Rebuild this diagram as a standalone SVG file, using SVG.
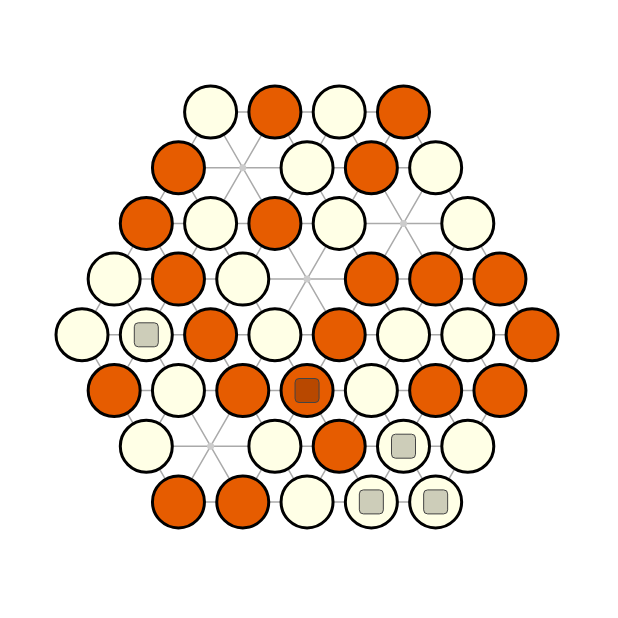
<svg xmlns="http://www.w3.org/2000/svg" width="618" height="618" viewBox="0 0 618 618">
<style>
.c{fill:#ffffe6;stroke:#000;stroke-width:3}
.o{fill:#e65c00;stroke:#000;stroke-width:3}
.e{fill:#cccccc;stroke:none}
.sq{fill:#cdcdb9;stroke:#444;stroke-width:1}
.sqo{fill:#b84800;stroke:#444;stroke-width:1}
#connectors path{fill:none;stroke:#aaaaaa;stroke-width:1.5}
</style>
<rect width="618" height="618" fill="#fff"/>
<g id="connectors">
<path d="M210.6 112H403.5M178.45 167.7H435.65M146.3 223.4H467.8M114.15 279.1H499.95M82 334.8H532.1M114.15 390.5H499.95M146.3 446.2H467.8M178.45 501.9H435.65"/>
<path d="M210.6 112L82 334.8M274.9 112L114.15 390.5M339.2 112L146.3 446.2M403.5 112L178.45 501.9M435.65 167.7L242.75 501.9M467.8 223.4L307.05 501.9M499.95 279.1L371.35 501.9M532.1 334.8L435.65 501.9"/>
<path d="M82 334.8L178.45 501.9M114.15 279.1L242.75 501.9M146.3 223.4L307.05 501.9M178.45 167.7L371.35 501.9M210.6 112L435.65 501.9M274.9 112L467.8 446.2M339.2 112L499.95 390.5M403.5 112L532.1 334.8"/>
</g>
<g id="r0">
<g id="n0-4"><circle class="c" cx="210.6" cy="112" r="26"/></g>
<g id="n0-6"><circle class="o" cx="274.9" cy="112" r="26"/></g>
<g id="n0-8"><circle class="c" cx="339.2" cy="112" r="26"/></g>
<g id="n0-10"><circle class="o" cx="403.5" cy="112" r="26"/></g>
</g>
<g id="r1">
<g id="n1-3"><circle class="o" cx="178.45" cy="167.7" r="26"/></g>
<g id="n1-5"><circle class="e" cx="242.75" cy="167.7" r="3.5"/></g>
<g id="n1-7"><circle class="c" cx="307.05" cy="167.7" r="26"/></g>
<g id="n1-9"><circle class="o" cx="371.35" cy="167.7" r="26"/></g>
<g id="n1-11"><circle class="c" cx="435.65" cy="167.7" r="26"/></g>
</g>
<g id="r2">
<g id="n2-2"><circle class="o" cx="146.3" cy="223.4" r="26"/></g>
<g id="n2-4"><circle class="c" cx="210.6" cy="223.4" r="26"/></g>
<g id="n2-6"><circle class="o" cx="274.9" cy="223.4" r="26"/></g>
<g id="n2-8"><circle class="c" cx="339.2" cy="223.4" r="26"/></g>
<g id="n2-10"><circle class="e" cx="403.5" cy="223.4" r="3.5"/></g>
<g id="n2-12"><circle class="c" cx="467.8" cy="223.4" r="26"/></g>
</g>
<g id="r3">
<g id="n3-1"><circle class="c" cx="114.15" cy="279.1" r="26"/></g>
<g id="n3-3"><circle class="o" cx="178.45" cy="279.1" r="26"/></g>
<g id="n3-5"><circle class="c" cx="242.75" cy="279.1" r="26"/></g>
<g id="n3-7"><circle class="e" cx="307.05" cy="279.1" r="3.5"/></g>
<g id="n3-9"><circle class="o" cx="371.35" cy="279.1" r="26"/></g>
<g id="n3-11"><circle class="o" cx="435.65" cy="279.1" r="26"/></g>
<g id="n3-13"><circle class="o" cx="499.95" cy="279.1" r="26"/></g>
</g>
<g id="r4">
<g id="n4-0"><circle class="c" cx="82" cy="334.8" r="26"/></g>
<g id="n4-2"><circle class="c" cx="146.3" cy="334.8" r="26"/><rect class="sq" x="134.3" y="322.8" width="24" height="24" rx="4"/></g>
<g id="n4-4"><circle class="o" cx="210.6" cy="334.8" r="26"/></g>
<g id="n4-6"><circle class="c" cx="274.9" cy="334.8" r="26"/></g>
<g id="n4-8"><circle class="o" cx="339.2" cy="334.8" r="26"/></g>
<g id="n4-10"><circle class="c" cx="403.5" cy="334.8" r="26"/></g>
<g id="n4-12"><circle class="c" cx="467.8" cy="334.8" r="26"/></g>
<g id="n4-14"><circle class="o" cx="532.1" cy="334.8" r="26"/></g>
</g>
<g id="r5">
<g id="n5-1"><circle class="o" cx="114.15" cy="390.5" r="26"/></g>
<g id="n5-3"><circle class="c" cx="178.45" cy="390.5" r="26"/></g>
<g id="n5-5"><circle class="o" cx="242.75" cy="390.5" r="26"/></g>
<g id="n5-7"><circle class="o" cx="307.05" cy="390.5" r="26"/><rect class="sqo" x="295.05" y="378.5" width="24" height="24" rx="4"/></g>
<g id="n5-9"><circle class="c" cx="371.35" cy="390.5" r="26"/></g>
<g id="n5-11"><circle class="o" cx="435.65" cy="390.5" r="26"/></g>
<g id="n5-13"><circle class="o" cx="499.95" cy="390.5" r="26"/></g>
</g>
<g id="r6">
<g id="n6-2"><circle class="c" cx="146.3" cy="446.2" r="26"/></g>
<g id="n6-4"><circle class="e" cx="210.6" cy="446.2" r="3.5"/></g>
<g id="n6-6"><circle class="c" cx="274.9" cy="446.2" r="26"/></g>
<g id="n6-8"><circle class="o" cx="339.2" cy="446.2" r="26"/></g>
<g id="n6-10"><circle class="c" cx="403.5" cy="446.2" r="26"/><rect class="sq" x="391.5" y="434.2" width="24" height="24" rx="4"/></g>
<g id="n6-12"><circle class="c" cx="467.8" cy="446.2" r="26"/></g>
</g>
<g id="r7">
<g id="n7-3"><circle class="o" cx="178.45" cy="501.9" r="26"/></g>
<g id="n7-5"><circle class="o" cx="242.75" cy="501.9" r="26"/></g>
<g id="n7-7"><circle class="c" cx="307.05" cy="501.9" r="26"/></g>
<g id="n7-9"><circle class="c" cx="371.35" cy="501.9" r="26"/><rect class="sq" x="359.35" y="489.9" width="24" height="24" rx="4"/></g>
<g id="n7-11"><circle class="c" cx="435.65" cy="501.9" r="26"/><rect class="sq" x="423.65" y="489.9" width="24" height="24" rx="4"/></g>
</g>
</svg>
